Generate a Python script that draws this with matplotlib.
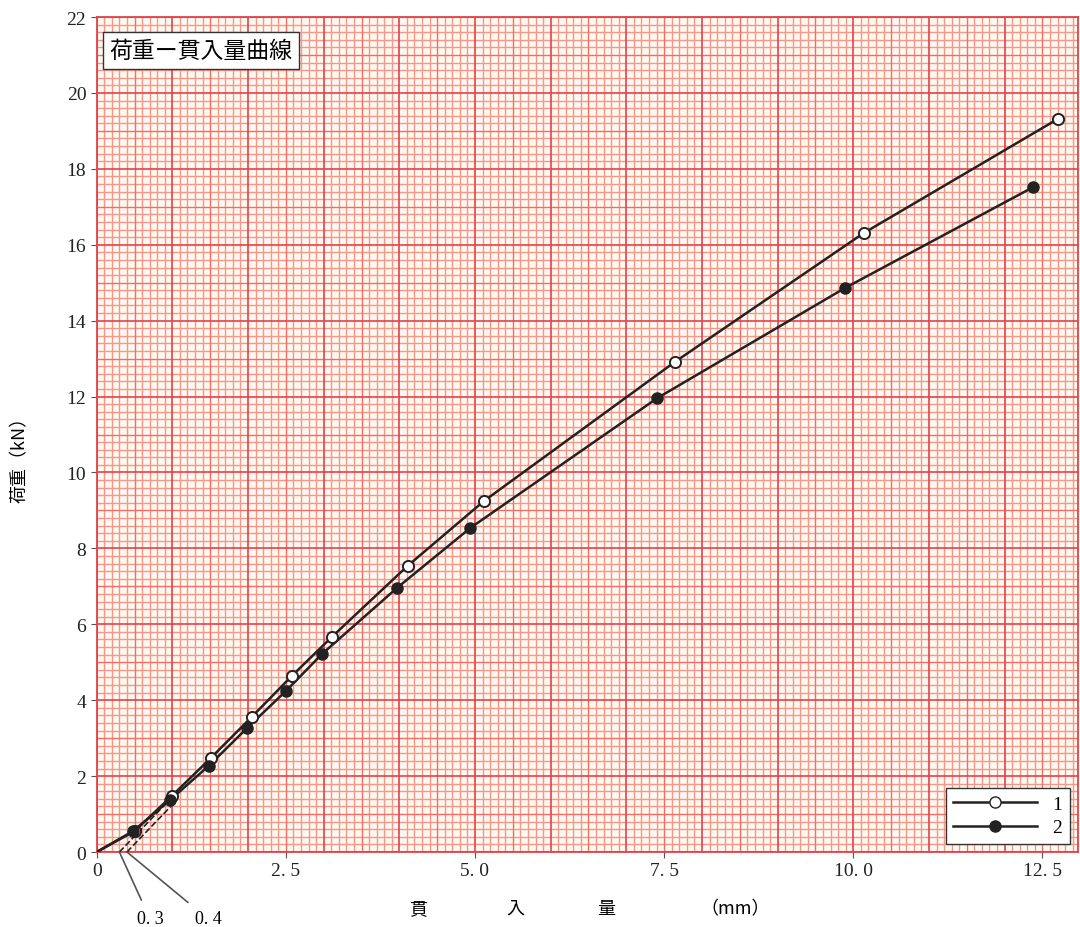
import numpy as np
import matplotlib
matplotlib.use("Agg")
import matplotlib.pyplot as plt
from matplotlib.lines import Line2D

plt.rcParams['font.family'] = ['Noto Sans CJK JP', 'DejaVu Sans']

# 読み取ったデータ (貫入量 mm, 荷重 kN)
x1 = [0.0, 0.50, 0.995, 1.51, 2.05, 2.58, 3.11, 4.11, 5.12, 7.64, 10.14, 12.70]
y1 = [0.0, 0.55, 1.48, 2.48, 3.56, 4.64, 5.67, 7.54, 9.25, 12.91, 16.31, 19.31]
x2 = [0.0, 0.48, 0.97, 1.48, 1.99, 2.50, 2.98, 3.97, 4.94, 7.41, 9.89, 12.38]
y2 = [0.0, 0.55, 1.37, 2.27, 3.27, 4.24, 5.22, 6.96, 8.54, 11.96, 14.86, 17.52]

# 補正線 (原点補正 0.3, 0.4)
corr_x1 = [0.3, 1.0]
corr_y1 = [0.0, 1.45]
corr_x2 = [0.4, 1.05]
corr_y2 = [0.0, 1.35]

xticks = [0, 2.5, 5.0, 7.5, 10.0, 12.5]
xtick_labels = ['0', '2. 5', '5. 0', '7. 5', '10. 0', '12. 5']
yticks = list(range(0, 23, 2))

fig = plt.figure(figsize=(10.8, 9.28), dpi=100)
ax = fig.add_axes([96.7 / 1080, 1 - 853 / 928, (1078 - 96.7) / 1080, (853 - 18) / 928])
xmax = 12.97
ax.set_xlim(0, xmax)
ax.set_ylim(0, 22)
ax.set_facecolor('#fff8f0')

# 方眼紙
for v in np.arange(0, xmax + 0.01, 0.1):
    k = int(round(v * 10))
    if k % 10 == 0:
        ax.axvline(v, color='#e6404a', lw=1.2, zorder=1)
    elif k % 5 == 0:
        ax.axvline(v, color='#f06e64', lw=1.0, zorder=0.9)
    else:
        ax.axvline(v, color='#f5988a', lw=1.0, zorder=0.8)
for v in np.arange(0, 22.01, 0.2):
    k = int(round(v * 5))
    if k % 10 == 0:
        ax.axhline(v, color='#e6404a', lw=1.2, zorder=1)
    elif k % 5 == 0:
        ax.axhline(v, color='#f06e64', lw=1.0, zorder=0.9)
    else:
        ax.axhline(v, color='#f5988a', lw=1.0, zorder=0.8)

for s in ax.spines.values():
    s.set_color('#e6404a')
    s.set_linewidth(1.3)

# 曲線
ax.plot(x1, y1, color='#222222', lw=1.8, zorder=3)
ax.plot(x2, y2, color='#222222', lw=1.8, zorder=3)
ax.plot(x1[1:], y1[1:], 'o', ms=8, mfc='white', mec='#222222', mew=1.4, zorder=4)
ax.plot(x2[1:], y2[1:], 'o', ms=8, mfc='#222222', mec='#222222', zorder=4)
ax.plot(corr_x1, corr_y1, '--', color='#222222', lw=1.2, zorder=3)
ax.plot(corr_x2, corr_y2, '--', color='#222222', lw=1.2, zorder=3)

ax.annotate('0. 3', xy=(0.3, 0), xytext=(150, 8), textcoords='figure pixels',
            fontsize=13, family='Liberation Serif', ha='center', va='center',
            annotation_clip=False,
            arrowprops=dict(arrowstyle='-', color='#555555', lw=1.2, shrinkA=6, shrinkB=0))
ax.annotate('0. 4', xy=(0.4, 0), xytext=(208, 8), textcoords='figure pixels',
            fontsize=13, family='Liberation Serif', ha='center', va='center',
            annotation_clip=False,
            arrowprops=dict(arrowstyle='-', color='#555555', lw=1.2, shrinkA=6, shrinkB=0))

ax.set_xticks(xticks)
ax.set_xticklabels(xtick_labels, family='Liberation Serif', fontsize=14)
ax.set_yticks(yticks)
ax.set_yticklabels([str(t) for t in yticks], family='Liberation Serif', fontsize=14)
ax.tick_params(axis='both', length=4, color='#555555', colors='#222222')

# 軸ラベル
for txt, px in [('貫', 418), ('入', 515), ('量', 606), ('（mm）', 735)]:
    fig.text(px / 1080, 1 - 909 / 928, txt, ha='center', va='center', fontsize=13)
fig.text(20 / 1080, 1 - 455 / 928, '荷重（kN）', rotation=90, ha='center', va='center', fontsize=13)

# タイトル
ax.text(0.013, 0.974, '荷重ー貫入量曲線', transform=ax.transAxes, ha='left', va='top',
        fontsize=16.5, zorder=5,
        bbox=dict(boxstyle='square,pad=0.3', fc='white', ec='#333333', lw=1))

handles = [Line2D([], [], color='#222222', lw=1.8, marker='o', ms=8, mfc='white', mec='#222222'),
           Line2D([], [], color='#222222', lw=1.8, marker='o', ms=8, mfc='#222222', mec='#222222')]
leg = ax.legend(handles, ['1', '2'], loc='lower right', handlelength=4.3, fancybox=False,
                edgecolor='#333333', framealpha=1, borderaxespad=0.4, labelspacing=0.3,
                prop={'family': 'Liberation Serif', 'size': 14})
leg.set_zorder(6)

fig.savefig('out.png', dpi=100)
